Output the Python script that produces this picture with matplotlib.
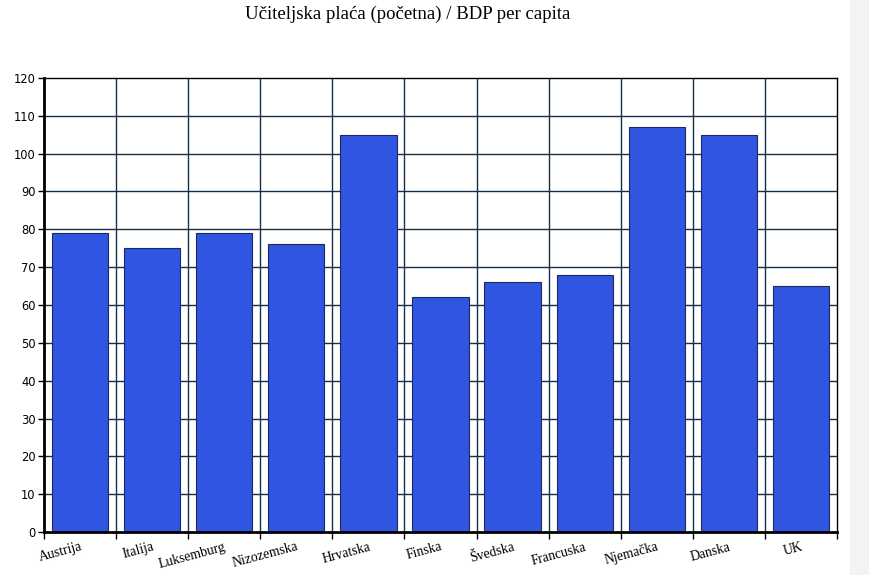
import matplotlib
matplotlib.use("Agg")
import matplotlib.pyplot as plt
import numpy as np
from matplotlib.patches import Rectangle

categories = ["Austrija", "Italija", "Luksemburg", "Nizozemska", "Hrvatska", "Finska",
              "Švedska", "Francuska", "Njemačka", "Danska", "UK"]
values = [79, 75, 79, 76, 105, 62, 66, 68, 107, 105, 65]
yticks = [0, 10, 20, 30, 40, 50, 60, 70, 80, 90, 100, 110, 120]

W, H = 869, 575
fig = plt.figure(figsize=(W / 100, H / 100), dpi=100)
fig.patches.append(Rectangle((850 / W, 0), 19 / W, 1, transform=fig.transFigure,
                             facecolor="#f3f3f3", edgecolor="none", zorder=0))
ax = fig.add_axes([44 / W, (H - 532) / H, (837 - 44) / W, (532 - 78) / H])

n = len(categories)
x = np.arange(n)
ax.bar(x, values, width=0.78, color="#3055e0", edgecolor="#1a2a60", linewidth=0.8, zorder=3)

ax.set_xlim(-0.5, n - 0.5)
ax.set_ylim(0, 120)
ax.set_yticks(yticks)
ax.set_yticklabels([str(v) for v in yticks], fontsize=8.3, family="DejaVu Sans")

bounds = np.arange(n + 1) - 0.5
ax.set_xticks(bounds)
ax.set_xticklabels([""] * len(bounds))
ax.set_xticks(x, minor=True)
ax.set_xticklabels(categories, minor=True, rotation=15, ha="right", rotation_mode="anchor",
                   fontsize=9.8, family="Liberation Serif")
ax.tick_params(axis="x", which="minor", length=0, pad=6)
ax.tick_params(axis="x", which="major", length=5, width=1, direction="out")
ax.tick_params(axis="y", length=4, width=1, direction="out", pad=2)

for b in bounds[1:-1]:
    ax.axvline(b, color="#143048", linewidth=1, zorder=1)
for v in yticks[1:-1]:
    ax.axhline(v, color="#143048", linewidth=1, zorder=1)

ax.spines["left"].set_linewidth(2)
ax.spines["bottom"].set_linewidth(2)
ax.spines["top"].set_linewidth(1)
ax.spines["right"].set_linewidth(1)
for s in ax.spines.values():
    s.set_zorder(4)

fig.text(408 / W, 1 - 14 / H, "Učiteljska plaća (početna) / BDP per capita", ha="center", va="center",
         fontsize=13.5, family="Liberation Serif")

fig.savefig("out.png", dpi=100)
